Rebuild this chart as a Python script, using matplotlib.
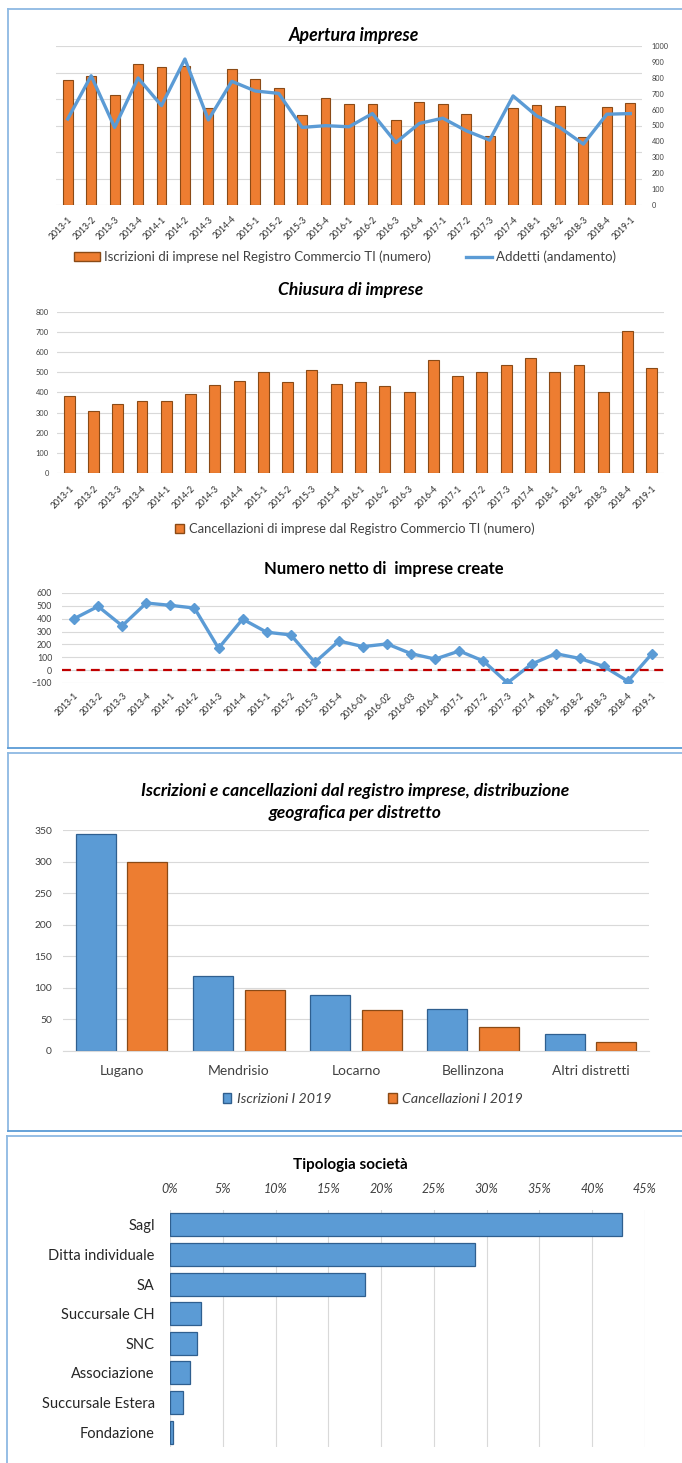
import numpy as np
import matplotlib.pyplot as plt
from matplotlib.lines import Line2D
from matplotlib.patches import Patch
from matplotlib.ticker import FuncFormatter

plt.rcParams['font.family'] = ['Lato', 'DejaVu Sans']

W, H = 682, 1463

# --- data ---
quarters = ['2013-1', '2013-2', '2013-3', '2013-4', '2014-1', '2014-2', '2014-3', '2014-4',
            '2015-1', '2015-2', '2015-3', '2015-4', '2016-1', '2016-2', '2016-3', '2016-4',
            '2017-1', '2017-2', '2017-3', '2017-4', '2018-1', '2018-2', '2018-3', '2018-4', '2019-1']
quarters_net = ['2013-1', '2013-2', '2013-3', '2013-4', '2014-1', '2014-2', '2014-3', '2014-4',
                '2015-1', '2015-2', '2015-3', '2015-4', '2016-01', '2016-02', '2016-03', '2016-4',
                '2017-1', '2017-2', '2017-3', '2017-4', '2018-1', '2018-2', '2018-3', '2018-4', '2019-1']

iscrizioni = [786, 813, 692, 885, 866, 876, 608, 853, 792, 734, 566, 675, 634,
              634, 533, 649, 634, 575, 435, 613, 630, 623, 425, 617, 644]
addetti = [541, 813, 488, 799, 625, 918, 535, 778, 717, 702, 488, 499, 492,
           575, 393, 513, 546, 467, 408, 686, 561, 487, 383, 571, 575]
cancellazioni = [381, 310, 343, 359, 356, 393, 437, 455, 500, 450, 510, 444, 450,
                 431, 404, 560, 484, 502, 538, 571, 502, 535, 404, 704, 522]
netto = [400, 496, 345, 522, 504, 483, 170, 397, 295, 274, 60, 227, 183,
         204, 128, 86, 149, 71, -99, 47, 128, 91, 29, -86, 128]

distretti = ['Lugano', 'Mendrisio', 'Locarno', 'Bellinzona', 'Altri distretti']
iscr_distretti = [343, 118, 88, 67, 27]
canc_distretti = [299, 96, 65, 38, 15]

tipologie = ['Sagl', 'Ditta individuale', 'SA', 'Succursale CH', 'SNC',
             'Associazione', 'Succursale Estera', 'Fondazione']
quote = [0.428, 0.289, 0.185, 0.029, 0.026, 0.0185, 0.0124, 0.0033]

ORANGE = '#ED7D31'
ORANGE_EDGE = '#8A4A16'
BLUE = '#5B9BD5'
BLUE_EDGE = '#2F5F8F'
GRID = '#D9D9D9'
TXT = '#404040'


def px_axes(fig, x0, y0, x1, y1):
    return fig.add_axes([x0 / W, 1 - y1 / H, (x1 - x0) / W, (y1 - y0) / H])


def fig_text(fig, x, y, s, **kw):
    fig.text(x / W, 1 - y / H, s, **kw)


def clean_axes(ax):
    for sp in ax.spines.values():
        sp.set_visible(False)
    ax.tick_params(length=0, colors=TXT)
    ax.set_axisbelow(True)


def quarter_labels(ax, labels, pad):
    ax.set_xticks(np.arange(len(labels)))
    ax.set_xticklabels(labels, rotation=45, ha='right', rotation_mode='anchor',
                       fontsize=6.2, color='#262626')
    ax.tick_params(axis='x', pad=pad)


fig = plt.figure(figsize=(W / 100, H / 100), dpi=100)

# frames around the three blocks
for (x, y0, y1) in [(8, 9, 748), (8, 753, 1131), (7, 1136, 1463)]:
    fig.add_artist(Line2D([x / W, x / W], [1 - y0 / H, 1 - y1 / H], color='#8DB9E3', lw=1.3))
    fig.add_artist(Line2D([x / W, 1], [1 - y0 / H, 1 - y0 / H], color='#8DB9E3', lw=1.3))
    if y1 < H:
        fig.add_artist(Line2D([x / W, 1], [1 - y1 / H, 1 - y1 / H], color='#5B9BD5', lw=1.3))

x = np.arange(len(quarters))

# ---- Apertura imprese ----
ax1 = px_axes(fig, 56, 46, 642, 205)
clean_axes(ax1)
ax1.bar(x, iscrizioni, width=0.42, color=ORANGE, edgecolor=ORANGE_EDGE, linewidth=0.8)
ax1.set_xlim(-0.5, len(quarters) - 0.5)
ax1.set_ylim(0, 1000)
ax1.set_yticks(np.linspace(0, 1000, 7))
ax1.set_yticklabels([])
ax1.grid(axis='y', color=GRID, lw=0.8)
quarter_labels(ax1, quarters, 7)

ax1b = ax1.twinx()
clean_axes(ax1b)
line1, = ax1b.plot(x, addetti, color=BLUE, lw=2.4)
ax1b.set_ylim(0, 1000)
ax1b.set_yticks(range(0, 1001, 100))
ax1b.tick_params(axis='y', labelsize=5.3, pad=7)

fig_text(fig, 354, 35, 'Apertura imprese', ha='center', va='center',
         fontsize=12.8, fontweight='bold', fontstyle='italic')
fig.legend([Patch(facecolor=ORANGE, edgecolor=ORANGE_EDGE), line1],
           ['Iscrizioni di imprese nel Registro Commercio TI (numero)', 'Addetti (andamento)'],
           loc='center', bbox_to_anchor=(345 / W, 1 - 257 / H), ncol=2, frameon=False,
           fontsize=9.5, columnspacing=2.6, handlelength=2.0, handleheight=0.6,
           handletextpad=0.3, labelcolor=TXT)

# ---- Chiusura di imprese ----
ax2 = px_axes(fig, 57, 312, 664, 473)
clean_axes(ax2)
ax2.bar(x, cancellazioni, width=0.45, color=ORANGE, edgecolor=ORANGE_EDGE, linewidth=0.8)
ax2.set_xlim(-0.5, len(quarters) - 0.5)
ax2.set_ylim(0, 800)
ax2.set_yticks(range(0, 801, 100))
ax2.tick_params(axis='y', labelsize=5.4, pad=6)
ax2.grid(axis='y', color=GRID, lw=0.8)
quarter_labels(ax2, quarters, 8)

fig_text(fig, 351, 290, 'Chiusura di imprese', ha='center', va='center',
         fontsize=12.6, fontweight='bold', fontstyle='italic')
fig.legend([Patch(facecolor=ORANGE, edgecolor=ORANGE_EDGE)],
           ['Cancellazioni di imprese dal Registro Commercio TI (numero)'],
           loc='center', bbox_to_anchor=(355 / W, 1 - 529 / H), frameon=False,
           fontsize=9.4, handlelength=0.7, handleheight=0.7, handletextpad=0.4,
           labelcolor=TXT)

# ---- Numero netto di imprese create ----
ax3 = px_axes(fig, 62, 593, 664, 683)
clean_axes(ax3)
ax3.plot(x, netto, color=BLUE, lw=2.4, marker='D', markersize=5.5)
ax3.axhline(0, color='#C00000', lw=1.6, ls=(0, (4, 2.5)))
ax3.set_xlim(-0.5, len(quarters) - 0.5)
ax3.set_ylim(-100, 600)
ax3.set_yticks(range(-100, 601, 100))
ax3.tick_params(axis='y', labelsize=6.3, pad=7)
ax3.grid(axis='y', color=GRID, lw=0.8)
quarter_labels(ax3, quarters_net, 6)

fig_text(fig, 384, 569, 'Numero netto di  imprese create', ha='center', va='center',
         fontsize=12, fontweight='bold')

# ---- distribuzione geografica ----
ax4 = px_axes(fig, 63, 830, 649, 1051)
clean_axes(ax4)
xd = np.arange(len(distretti))
ax4.bar(xd - 0.22, iscr_distretti, width=0.34, color=BLUE, edgecolor=BLUE_EDGE, linewidth=0.9)
ax4.bar(xd + 0.22, canc_distretti, width=0.34, color=ORANGE, edgecolor=ORANGE_EDGE, linewidth=0.9)
ax4.set_xlim(-0.5, len(distretti) - 0.5)
ax4.set_ylim(0, 350)
ax4.set_yticks(range(0, 351, 50))
ax4.tick_params(axis='y', labelsize=7.4, pad=8)
ax4.set_xticks(xd)
ax4.set_xticklabels(distretti, fontsize=10)
ax4.tick_params(axis='x', pad=10)
ax4.grid(axis='y', color=GRID, lw=0.8)
ax4.spines['bottom'].set_visible(True)
ax4.spines['bottom'].set_color(GRID)

fig_text(fig, 355, 802, 'Iscrizioni e cancellazioni dal registro imprese, distribuzione\ngeografica per distretto',
         ha='center', va='center', fontsize=12.6, fontweight='bold', fontstyle='italic',
         linespacing=1.4)
leg4 = fig.legend([Patch(facecolor=BLUE, edgecolor=BLUE_EDGE), Patch(facecolor=ORANGE, edgecolor=ORANGE_EDGE)],
                  ['Iscrizioni I 2019', 'Cancellazioni I 2019'],
                  loc='center', bbox_to_anchor=(373 / W, 1 - 1099 / H), ncol=2, frameon=False,
                  fontsize=10.2, columnspacing=4.0, handlelength=0.6, handleheight=0.7,
                  handletextpad=0.4, labelcolor=TXT)
for t in leg4.get_texts():
    t.set_fontstyle('italic')

# ---- Tipologia società ----
ax5 = px_axes(fig, 170, 1210, 645, 1447)
clean_axes(ax5)
yt = np.arange(len(tipologie))
ax5.barh(yt, quote, height=0.78, color=BLUE, edgecolor=BLUE_EDGE, linewidth=0.9)
ax5.set_xlim(0, 0.45)
ax5.set_ylim(len(tipologie) - 0.5, -0.5)
ax5.set_xticks(np.arange(0, 0.451, 0.05))
ax5.xaxis.set_major_formatter(FuncFormatter(lambda v, p: f'{v * 100:.0f}%'))
ax5.xaxis.tick_top()
ax5.tick_params(axis='x', labelsize=9, pad=11)
for t in ax5.get_xticklabels():
    t.set_fontstyle('italic')
ax5.set_yticks(yt)
ax5.set_yticklabels(tipologie, fontsize=10.5, color='#262626')
ax5.tick_params(axis='y', pad=11)
ax5.grid(axis='x', color=GRID, lw=0.8)

fig_text(fig, 350, 1165, 'Tipologia società', ha='center', va='center',
         fontsize=11, fontweight='bold')

fig.savefig('out.png', dpi=100, facecolor='white')
